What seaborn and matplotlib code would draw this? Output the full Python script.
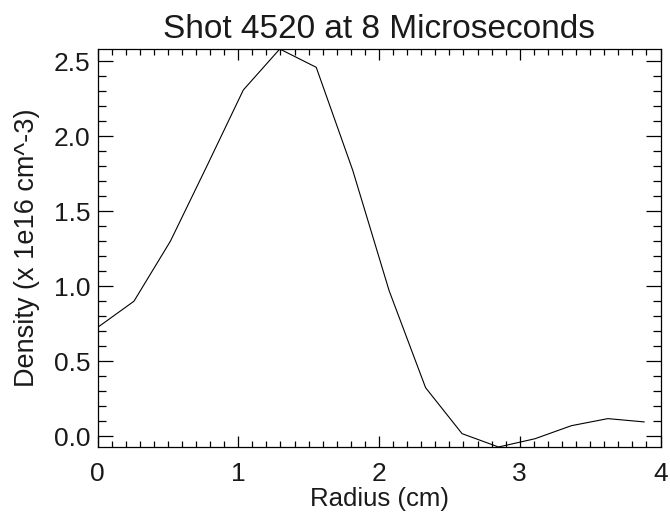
import numpy as np
import pandas as pd
import matplotlib
matplotlib.use("Agg")
import matplotlib.pyplot as plt
from matplotlib.ticker import MultipleLocator
import seaborn as sns

# Data
radius = [0.0, 0.259, 0.518, 0.777, 1.036, 1.295, 1.554, 1.813,
          2.072, 2.331, 2.590, 2.849, 3.108, 3.367, 3.626, 3.885]
density = [0.725, 0.90, 1.30, 1.80, 2.307, 2.58, 2.458, 1.773,
           0.970, 0.324, 0.018, -0.071, -0.016, 0.071, 0.118, 0.096]
x_ticks = [0, 1, 2, 3, 4]
y_ticks = [0.0, 0.5, 1.0, 1.5, 2.0, 2.5]
title = "Shot 4520 at 8 Microseconds"
x_label = "Radius (cm)"
y_label = "Density (x 1e16 cm^-3)"

sns.set_theme(style="white")
plt.rcParams['font.family'] = ['Liberation Sans', 'DejaVu Sans']

df = pd.DataFrame({"radius": radius, "density": density})

fig = plt.figure(figsize=(6.7, 5.12), dpi=100)
ax = fig.add_axes([97.5 / 670, 1 - 447 / 512, 563 / 670, 398 / 512])

sns.lineplot(data=df, x="radius", y="density", ax=ax, color="black",
             linewidth=0.8, estimator=None, sort=False)

ax.set_xlim(0, 4)
ax.set_ylim(min(density), max(density))
ax.set_xticks(x_ticks)
ax.set_xticklabels([str(t) for t in x_ticks])
ax.set_yticks(y_ticks)
ax.set_yticklabels([f"{t:.1f}" for t in y_ticks])
ax.xaxis.set_minor_locator(MultipleLocator(0.1))
ax.yaxis.set_minor_locator(MultipleLocator(0.1))

for s in ax.spines.values():
    s.set_color("black")
    s.set_linewidth(0.9)

txt = "#1a1a1a"
ax.tick_params(axis="x", which="both", direction="in", top=True, bottom=True,
               labelsize=19, pad=10.5, color="black", width=0.9, labelcolor=txt)
ax.tick_params(axis="x", which="major", length=8)
ax.tick_params(axis="x", which="minor", length=4)
ax.tick_params(axis="y", which="both", direction="in", left=True, right=True,
               labelsize=19, pad=5, color="black", width=0.9, labelcolor=txt)
ax.tick_params(axis="y", which="major", length=11)
ax.tick_params(axis="y", which="minor", length=5.5)

ax.set_title(title, fontsize=24, color=txt, pad=8)
ax.set_xlabel(x_label, fontsize=18.5, color=txt, labelpad=1)
ax.set_ylabel(y_label, fontsize=19.5, color=txt, labelpad=10)

fig.savefig("out.png", dpi=100)
